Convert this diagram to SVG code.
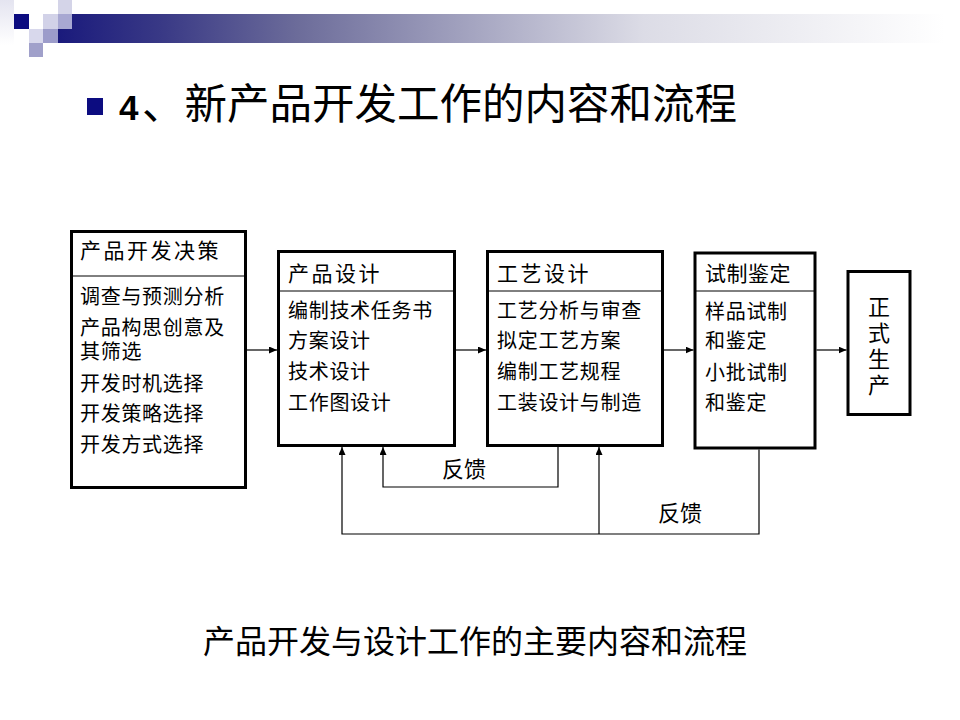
<svg xmlns="http://www.w3.org/2000/svg" width="960" height="720" viewBox="0 0 960 720">
<style>
.box{fill:#fff;stroke:#000;stroke-width:3}
.div{stroke:#000;stroke-width:1}
.hd{font-family:"Liberation Sans","Noto Sans CJK SC",sans-serif;font-size:21px;letter-spacing:2.5px;fill:#000}
.bd{font-family:"Liberation Sans","Noto Sans CJK SC",sans-serif;font-size:20px;letter-spacing:0.7px;fill:#000}
.vt{font-family:"Liberation Sans","Noto Sans CJK SC",sans-serif;font-size:22px;fill:#000;text-anchor:middle}
.fb{font-family:"Liberation Sans","Noto Sans CJK SC",sans-serif;font-size:22px;fill:#000}
.ln{fill:none;stroke:#000;stroke-width:1.2}
</style>
<defs>
<linearGradient id="bar" gradientUnits="userSpaceOnUse" x1="58" y1="0" x2="945" y2="0">
<stop offset="0" stop-color="#1a1a7c"/>
<stop offset="0.12" stop-color="#3a3a86"/>
<stop offset="0.27" stop-color="#6c6c9a"/>
<stop offset="0.66" stop-color="#dcdce6"/>
<stop offset="1" stop-color="#ffffff"/>
</linearGradient>
<linearGradient id="lcol" x1="0" y1="0" x2="0" y2="1">
<stop offset="0" stop-color="#e4e4f0"/>
<stop offset="1" stop-color="#ffffff"/>
</linearGradient>
<marker id="ah" markerUnits="userSpaceOnUse" markerWidth="8" markerHeight="7" refX="8" refY="3.5" orient="auto">
<path d="M0,0 L8,3.5 L0,7 z" fill="#000"/>
</marker>
</defs>
<rect width="960" height="720" fill="#fff"/>
<g id="decoration">
<rect x="0" y="0" width="14" height="45" fill="url(#lcol)"/>
<rect x="58" y="14" width="902" height="29" fill="url(#bar)"/>
<rect x="14" y="14" width="15" height="15" fill="#0c0c80"/>
<rect x="43" y="14" width="15" height="15" fill="#d2d2e8"/>
<rect x="58" y="0" width="14" height="14" fill="#d4d4e8"/>
<rect x="58" y="14" width="14" height="15" fill="#a8a8d2"/>
<rect x="29" y="29" width="14" height="14" fill="#d8d8ec"/>
<rect x="43" y="29" width="15" height="14" fill="#9c9cca"/>
<rect x="29" y="43" width="14" height="14" fill="#a0a0ca"/>
</g>
<g id="title">
<rect x="87" y="98" width="16" height="17" fill="#0c0c80"/>
<text x="119" y="120" font-family="Liberation Sans,sans-serif" font-weight="bold" font-size="35" fill="#000">4</text>
<text x="142" y="119" font-family="'Noto Sans CJK SC',sans-serif" font-size="42.5" fill="#000">、新产品开发工作的内容和流程</text>
</g>
<g id="n1">
<rect class="box" x="71.5" y="231.5" width="174" height="256"/>
<line class="div" x1="71.5" y1="276" x2="245.5" y2="276"/>
<text class="hd" x="80" y="258">产品开发决策</text>
<text class="bd" x="80" y="304">调查与预测分析</text>
<text class="bd" x="80" y="335">产品构思创意及</text>
<text class="bd" x="80" y="359">其筛选</text>
<text class="bd" x="80" y="391">开发时机选择</text>
<text class="bd" x="80" y="421">开发策略选择</text>
<text class="bd" x="80" y="452">开发方式选择</text>
</g>
<g id="n2">
<rect class="box" x="278.5" y="251.5" width="176" height="194"/>
<line class="div" x1="278.5" y1="291" x2="454.5" y2="291"/>
<text class="hd" x="288" y="281">产品设计</text>
<text class="bd" x="288" y="318">编制技术任务书</text>
<text class="bd" x="288" y="348">方案设计</text>
<text class="bd" x="288" y="379">技术设计</text>
<text class="bd" x="288" y="410">工作图设计</text>
</g>
<g id="n3">
<rect class="box" x="487.5" y="251.5" width="175" height="194"/>
<line class="div" x1="487.5" y1="291" x2="662.5" y2="291"/>
<text class="hd" x="497" y="281">工艺设计</text>
<text class="bd" x="497" y="318">工艺分析与审查</text>
<text class="bd" x="497" y="348">拟定工艺方案</text>
<text class="bd" x="497" y="379">编制工艺规程</text>
<text class="bd" x="497" y="410">工装设计与制造</text>
</g>
<g id="n4">
<rect class="box" x="695" y="253" width="120" height="195"/>
<line class="div" x1="695" y1="291" x2="815" y2="291"/>
<text class="hd" x="705" y="281" style="letter-spacing:0.5px">试制鉴定</text>
<text class="bd" x="705" y="319">样品试制</text>
<text class="bd" x="705" y="348">和鉴定</text>
<text class="bd" x="705" y="380">小批试制</text>
<text class="bd" x="705" y="410">和鉴定</text>
</g>
<g id="n5">
<rect class="box" x="848" y="271.5" width="62" height="143"/>
<text class="vt" x="879" y="315">正</text>
<text class="vt" x="879" y="341">式</text>
<text class="vt" x="879" y="367">生</text>
<text class="vt" x="879" y="393">产</text>
</g>
<g id="connectors">
<path class="ln" d="M247,350 H277" marker-end="url(#ah)"/>
<path class="ln" d="M456,350 H486" marker-end="url(#ah)"/>
<path class="ln" d="M664,350 H693.5" marker-end="url(#ah)"/>
<path class="ln" d="M816.5,350 H846.5" marker-end="url(#ah)"/>
<path class="ln" d="M558,447 V487 H383 V447" marker-end="url(#ah)"/>
<path class="ln" d="M759,449.5 V534 H342 V447" marker-end="url(#ah)"/>
<path class="ln" d="M599,534 V447" marker-end="url(#ah)"/>
<text class="fb" x="442" y="477">反馈</text>
<text class="fb" x="658" y="521">反馈</text>
</g>
<g id="caption">
<text x="203" y="653" font-family="'Noto Sans CJK SC',sans-serif" font-size="32" fill="#000">产品开发与设计工作的主要内容和流程</text>
</g>
</svg>
